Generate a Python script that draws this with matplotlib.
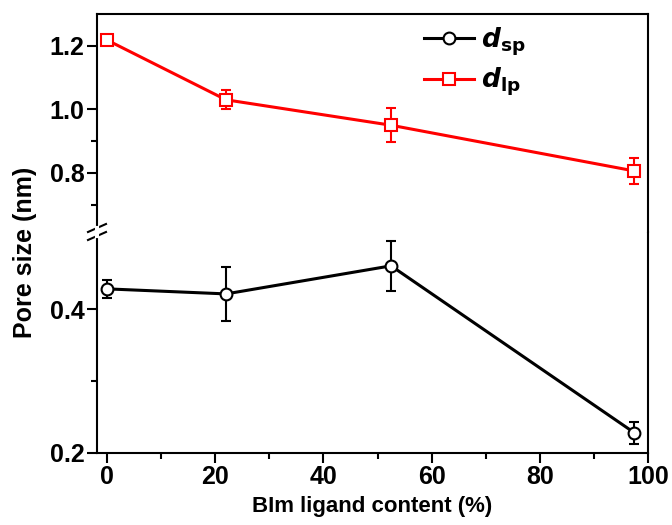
"""Pore size vs BIm ligand content, with a broken y-axis."""

import matplotlib.pyplot as plt
from matplotlib.lines import Line2D

plt.rcParams["font.family"] = ["Liberation Sans", "DejaVu Sans"]
plt.rcParams["font.weight"] = "bold"

ligand = [0, 22, 52.5, 97.5]
d_sp = [0.428, 0.421, 0.460, 0.228]
d_sp_err = [0.013, 0.037, 0.035, 0.015]
d_lp = [1.218, 1.030, 0.950, 0.806]
d_lp_err = [0.008, 0.030, 0.053, 0.040]

W, H = 672, 525
left, right, top, bottom, brk = 97, 648, 14, 453, 232

fig = plt.figure(figsize=(W / 100, H / 100), dpi=100)
ax_lo = fig.add_axes([left / W, 1 - bottom / H, (right - left) / W, (bottom - brk) / H])
ax_hi = fig.add_axes([left / W, 1 - brk / H, (right - left) / W, (brk - top) / H])

for ax in (ax_lo, ax_hi):
    ax.errorbar(ligand, d_sp, yerr=d_sp_err, color="black", lw=2.2, marker="o",
                ms=8.5, mfc="white", mec="black", mew=1.5, capsize=3.6, elinewidth=1.5,
                capthick=1.5, zorder=3)
    ax.errorbar(ligand, d_lp, yerr=d_lp_err, color="red", lw=2.2, marker="s",
                ms=8, mfc="white", mec="red", mew=1.5, capsize=3.6, elinewidth=1.5,
                capthick=1.5, zorder=3)
    ax.set_xlim(-1.85, 100)
    for s in ax.spines.values():
        s.set_linewidth(1.5)
    ax.tick_params(which="major", direction="out", length=7, width=1.5, labelsize=18, pad=2)
    ax.tick_params(which="minor", direction="out", length=4, width=1.5)

ax_lo.set_ylim(0.2, 0.507)
ax_lo.set_yticks([0.2, 0.4])
ax_lo.set_yticks([0.3], minor=True)
ax_lo.set_xticks([0, 20, 40, 60, 80, 100])
ax_lo.set_xticks([10, 30, 50, 70, 90], minor=True)
ax_lo.spines["top"].set_visible(False)

ax_hi.set_ylim(0.614, 1.30)
ax_hi.set_yticks([0.8, 1.0, 1.2])
ax_hi.set_yticks([0.7, 0.9], minor=True)
ax_hi.spines["bottom"].set_visible(False)
ax_hi.tick_params(axis="x", which="both", bottom=False, labelbottom=False)

for ax in (ax_lo, ax_hi):
    for lab in ax.get_xticklabels() + ax.get_yticklabels():
        lab.set_fontweight("bold")

ax_lo.set_xlabel("BIm ligand content (%)", fontsize=16, fontweight="bold", labelpad=5)
fig.text(25 / W, 1 - 252 / H, "Pore size (nm)", rotation=90, fontsize=18,
         fontweight="bold", ha="center", va="center")

# break marks on the left axis
for dy in (-4, 4):
    fig.add_artist(Line2D([(left - 9) / W, (left + 9) / W],
                          [1 - (brk + dy + 4) / H, 1 - (brk + dy - 4) / H],
                          color="black", lw=1.5))
fig.add_artist(Line2D([left / W, left / W], [1 - (brk + 4) / H, 1 - (brk - 4) / H],
                      color="white", lw=3))

handles = [
    Line2D([], [], color="black", lw=2.2, marker="o", ms=8.5, mfc="white", mew=1.5),
    Line2D([], [], color="red", lw=2.2, marker="s", ms=8, mfc="white", mew=1.5),
]
ax_hi.legend(handles, [r"$\mathbf{\mathit{d}}_\mathbf{sp}$", r"$\mathbf{\mathit{d}}_\mathbf{lp}$"],
             loc="upper left", bbox_to_anchor=(0.55, 1.055), frameon=False,
             fontsize=19, handlelength=1.9, handletextpad=0.25, labelspacing=0.3)

fig.savefig("out.png", dpi=100)
